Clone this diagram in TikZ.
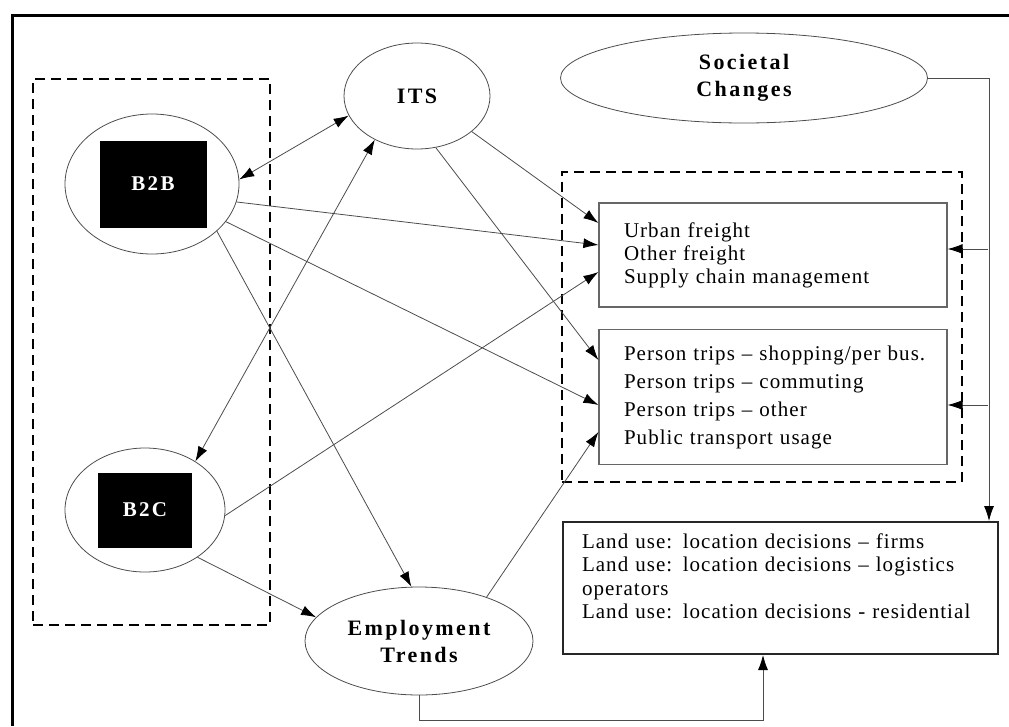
\documentclass[tikz,border=0pt]{standalone}
\usepackage{fontspec}
\setmainfont{Liberation Serif}
\newfontfamily\boxfont[LetterSpace=5]{Liberation Serif}
\newfontfamily\headfont[LetterSpace=11]{Liberation Serif Bold}
\usetikzlibrary{
    arrows.meta,
    shapes.geometric
}

\begin{document}
\begin{tikzpicture}[x=1pt, y=-1pt,
    link/.style={draw=black!70, line width=0.8pt, -{Latex[length=15pt, width=10pt, color=black]}},
    twoway/.style={link, {Latex[length=15pt, width=10pt, color=black]}-{Latex[length=15pt, width=10pt, color=black]}},
    bubble/.style={ellipse, draw=black!70, line width=0.8pt, inner sep=0pt, align=center, font=\headfont\fontsize{22}{27}\selectfont},
    darkbox/.style={fill=black, text=white, inner sep=0pt, font=\headfont\fontsize{21}{24}\selectfont},
    listbox/.style={draw=black!60, line width=1.2pt, inner xsep=25pt, text width=298pt, align=left, font=\boxfont\fontsize{21}{23}\selectfont},
    groupbox/.style={draw, line width=2pt, dash pattern=on 10pt off 6pt}]
    \useasboundingbox (0,0) rectangle (1009,726);
    \draw[line width=3pt] (12,726) -- (12,15) -- (1009,15);
    \node[groupbox, minimum width=237pt, minimum height=546pt] (firms) at (151.5,352) {};
    \node[groupbox, minimum width=400pt, minimum height=310pt] (travel) at (762,327) {};
    \node[bubble, minimum width=174pt, minimum height=140pt] (b2b) at (152,184) {};
    \node[darkbox, minimum width=107pt, minimum height=87pt] (b2bbox) at (153,184) {B2B};
    \node[bubble, minimum width=160pt, minimum height=124pt] (b2c) at (145,510) {};
    \node[darkbox, minimum width=94pt, minimum height=75pt] (b2cbox) at (145,510) {B2C};
    \node[bubble, minimum width=146pt, minimum height=106pt] (its) at (417,96) {ITS};
    \node[bubble, minimum width=367pt, minimum height=90pt] (soc) at (744,78) {Societal\\Changes};
    \node[bubble, minimum width=228pt, minimum height=108pt] (emp) at (419,641) {Employment\\Trends};
    \node[listbox, minimum height=104pt] (freight) at (773,255) {Urban freight\\Other freight\\Supply chain management};
    \node[listbox, minimum height=135pt, font=\boxfont\fontsize{21}{28}\selectfont] (person) at (773,397)
        {\mbox{Person trips – shopping/per bus.}\\Person trips – commuting\\Person trips – other\\Public transport usage};
    \node[listbox, draw=black!85, line width=2pt, inner xsep=19pt, text width=397pt, minimum height=132pt, font=\boxfont\fontsize{21}{23.5}\selectfont] (landuse) at (780.5,588)
        {Land use: location decisions – firms\\Land use: location decisions – logistics\\operators\\Land use: location decisions - residential\\ \mbox{}};
    \coordinate (rail1) at (988,249);
    \coordinate (rail2) at (988,405);
    \draw[twoway] (b2b.3) -- (its.196);
    \draw[twoway] (b2c.44) -- (its.226);
    \draw[link] (its.-33) -- ([yshift=32pt]freight.west);
    \draw[link] (b2b.-12) -- ([yshift=10pt]freight.west);
    \draw[link] (b2c.-4) -- ([yshift=-17pt]freight.west);
    \draw[link] (its.-70) -- ([yshift=37pt]person.west);
    \draw[link] (b2b.-27) -- ([yshift=-8pt]person.west);
    \draw[link] (emp.33) -- ([yshift=-35pt]person.west);
    \draw[link] (b2b.-36) -- (emp.98);
    \draw[link] (b2c.-42) -- (emp.167);
    \draw[link] (soc.east) -| ([xshift=-10pt]landuse.north east);
    \draw[link] (rail1) -- (rail1 -| freight.east);
    \draw[link] (rail2) -- (rail2 -| person.east);
    \draw[link] (emp.south) -- ++(0,25) -| ([xshift=-17.5pt]landuse.south);
\end{tikzpicture}
\end{document}
